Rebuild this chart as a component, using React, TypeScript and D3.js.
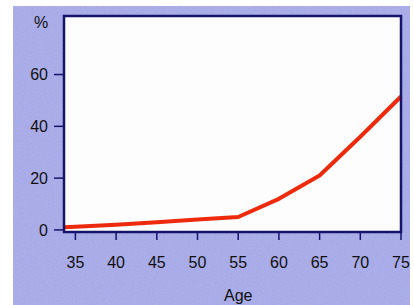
import React from 'react';
import * as d3 from 'd3';

// values
const ages = [33.6, 35, 40, 45, 50, 55, 60, 65, 70, 75];
const percent = [1, 1.2, 2, 3, 4, 5, 12, 21, 36, 51.5];
const xTicks = [35, 40, 45, 50, 55, 60, 65, 70, 75];
const yTicks = [0, 20, 40, 60];

const W = 414;
const H = 305;
const margin = { top: 16, right: 13, bottom: 73, left: 64 };

export default function App() {
  const innerW = W - margin.left - margin.right;
  const innerH = H - margin.top - margin.bottom;

  const x = d3.scaleLinear().domain([33.6, 75]).range([0, innerW]);
  const y = d3.scaleLinear().domain([-0.8, 82.6]).range([innerH, 0]);

  const line = d3
    .line<number>()
    .x((_, i) => x(ages[i]))
    .y(d => y(d));

  const navy = '#14146a';
  const font = 'Liberation Sans, Arial, sans-serif';

  return (
    <svg
      width={W}
      height={H}
      style={{ position: 'absolute', left: 0, top: 0, background: '#fff' }}
    >
      <defs>
        <filter id="grain">
          <feTurbulence type="fractalNoise" baseFrequency="0.9" numOctaves="2" seed="3" />
          <feColorMatrix
            type="matrix"
            values="0 0 0 0 0.52  0 0 0 0 0.54  0 0 0 0 0.84  0 0 0 0.5 0"
          />
          <feComposite in2="SourceGraphic" operator="in" />
        </filter>
      </defs>
      <rect x={13} y={6} width={397} height={H - 6} fill="#a2a5e6" />
      <rect x={13} y={6} width={397} height={H - 6} fill="#a2a5e6" filter="url(#grain)" />

      <g transform={`translate(${margin.left},${margin.top})`}>
        <rect x={0} y={0} width={innerW} height={innerH} fill="#fdfdfd" />

        {/* y axis ticks */}
        {yTicks.map(t => (
          <g key={t} transform={`translate(0,${y(t)})`}>
            <line x1={-10} x2={0} stroke={navy} strokeWidth={1.5} />
            <text
              x={-16}
              dy="0.35em"
              textAnchor="end"
              fontFamily={font}
              fontSize={16}
              fill="#111"
            >
              {t}
            </text>
          </g>
        ))}
        <text x={-23} y={12} textAnchor="middle" fontFamily={font} fontSize={16} fill="#111">
          %
        </text>

        {/* x axis ticks */}
        {xTicks.map(t => (
          <g key={t} transform={`translate(${x(t)},${innerH})`}>
            <line y1={0} y2={8} stroke={navy} strokeWidth={1.5} />
            <text
              y={36}
              textAnchor="middle"
              fontFamily={font}
              fontSize={16}
              fill="#111"
            >
              {t}
            </text>
          </g>
        ))}
        <text
          x={x(55)}
          y={innerH + 69}
          textAnchor="middle"
          fontFamily={font}
          fontSize={16}
          fill="#111"
        >
          Age
        </text>

        <path
          d={line(percent) || ''}
          fill="none"
          stroke="#ee2a0c"
          strokeWidth={4}
          strokeLinejoin="round"
        />

        {/* frame */}
        <rect
          x={0}
          y={0}
          width={innerW}
          height={innerH}
          fill="none"
          stroke={navy}
          strokeWidth={2.5}
        />
      </g>
    </svg>
  );
}
